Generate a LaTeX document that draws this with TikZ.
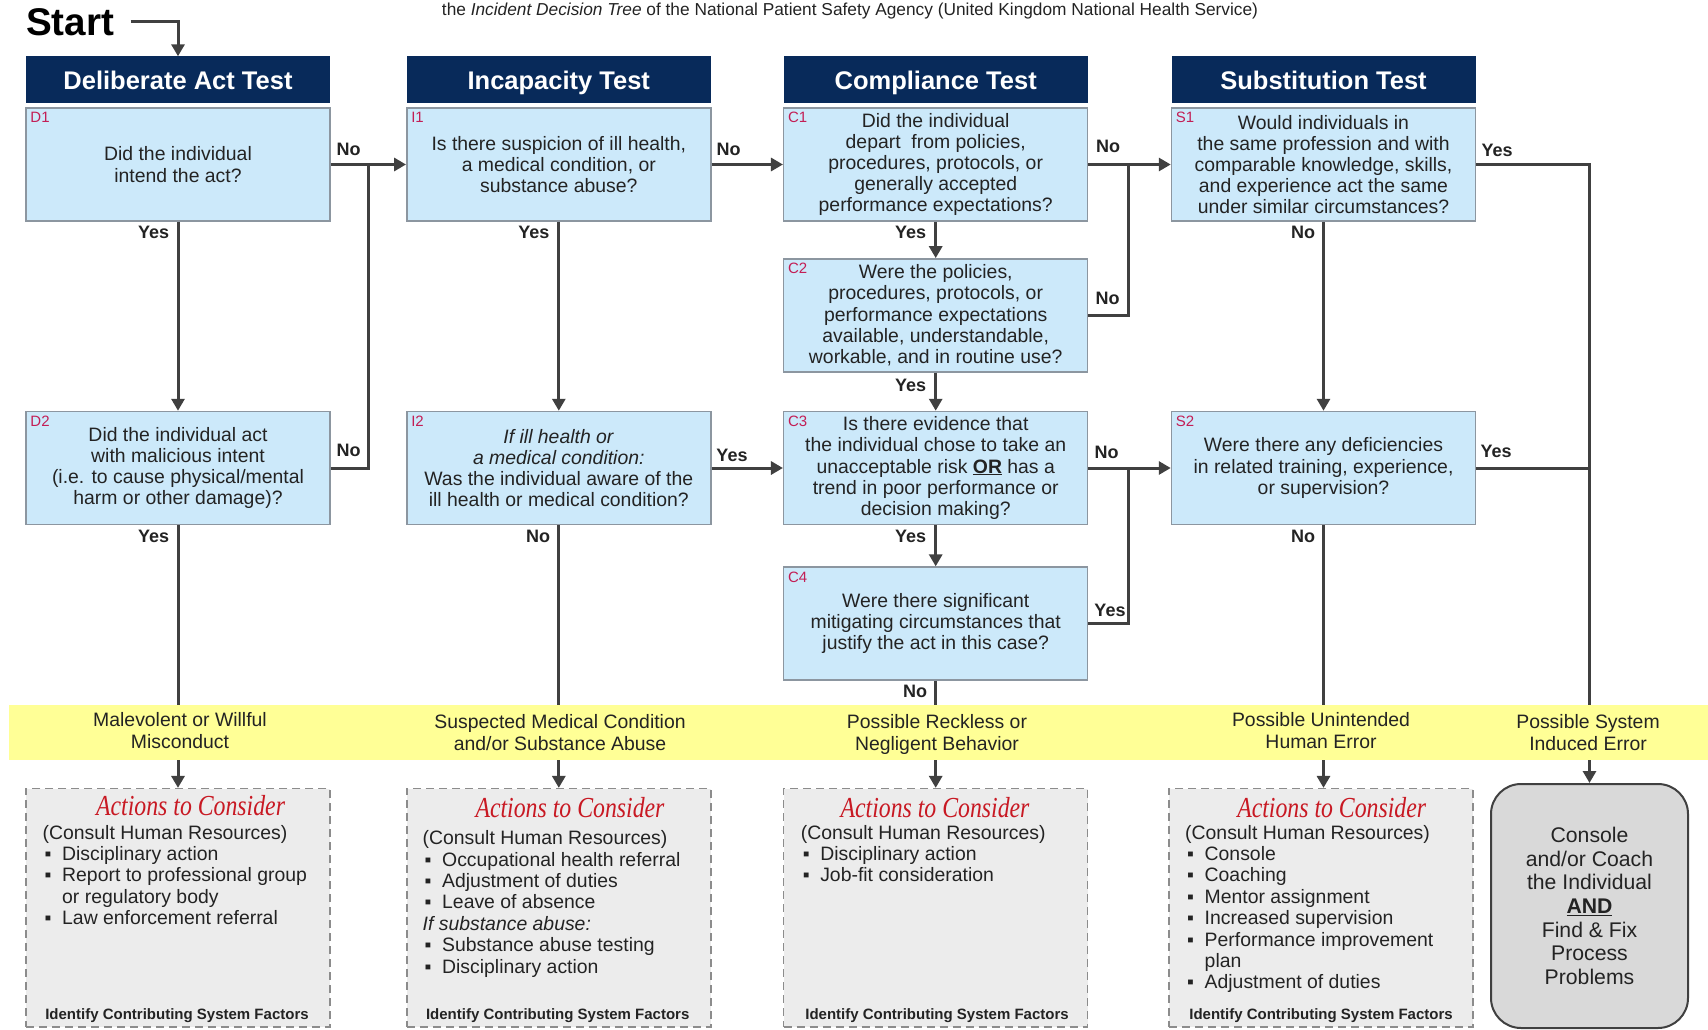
\documentclass[tikz,border=0pt]{standalone}
\usepackage{fontspec}
\setmainfont{Liberation Sans}
\newfontfamily\actfont[FakeStretch=0.82]{Liberation Serif}
\usetikzlibrary{arrows.meta,calc}
\definecolor{navy}{RGB}{8,42,90}
\definecolor{qfill}{RGB}{204,233,250}
\definecolor{qdraw}{RGB}{140,150,160}
\definecolor{lblred}{RGB}{195,30,85}
\definecolor{txt}{RGB}{35,35,35}
\definecolor{conncol}{RGB}{64,64,64}
\definecolor{bandcol}{RGB}{255,255,150}
\definecolor{actfill}{RGB}{236,236,236}
\definecolor{actdraw}{RGB}{140,140,140}
\definecolor{actred}{RGB}{200,25,35}
\definecolor{roundfill}{RGB}{217,217,217}
\newcommand\blt{\hspace*{2pt}\makebox[17.5pt][l]{▪}}
\newcommand\cnt{\hspace*{19.5pt}}
\begin{document}
\begin{tikzpicture}[x=1pt,y=-1pt,
  hdr/.style={fill=navy,text=white,font=\fontsize{25.5}{28}\selectfont\bfseries,minimum width=304pt,minimum height=47pt,inner sep=0pt,text height=18.3pt,text depth=0pt},
  qbox/.style={fill=qfill,draw=qdraw,line width=1.5pt,minimum width=304pt,minimum height=113pt,align=center,text=txt,font=\fontsize{19.4}{21.2}\selectfont,inner sep=0pt},
  qlabel/.style={text=lblred,font=\fontsize{15}{16}\selectfont,anchor=north west,inner sep=0pt},
  yn/.style={font=\fontsize{18}{20}\selectfont\bfseries,text=txt,inner sep=0pt},
  conn/.style={draw=conncol,line width=3pt},
  arr/.style={conn,-{Triangle[length=12pt,width=13pt]}},
  actbox/.style={fill=actfill,draw=actdraw,dash pattern=on 8pt off 5pt,line width=1.5pt,minimum width=304pt,minimum height=238.3pt,inner sep=0pt},
  acttitle/.style={font=\actfont\itshape\fontsize{29}{31}\selectfont,text=actred,inner sep=0pt},
  acttext/.style={font=\fontsize{19.4}{21.4}\selectfont,text=txt,align=left,anchor=north west,inner sep=0pt},
  idf/.style={font=\fontsize{15}{17}\selectfont\bfseries,text=txt,inner sep=0pt},
  bandtext/.style={font=\fontsize{19.4}{21.8}\selectfont,text=txt,align=center,inner sep=0pt}
]
\useasboundingbox (0,0) rectangle (1708,1030);

% title line
\node[font=\fontsize{17.3}{19}\selectfont,text=txt,inner sep=0pt] (title) at (850,11)
  {the \textit{Incident Decision Tree} of the National Patient Safety Agency (United Kingdom National Health Service)};

% headers
\node[hdr] (hD) at (178,80) {Deliberate Act Test};
\node[hdr] (hI) at (558.8,80) {Incapacity Test};
\node[hdr] (hC) at (935.7,80) {Compliance Test};
\node[hdr] (hS) at (1323.5,80) {Substitution Test};

% start
\node[font=\fontsize{38.6}{40}\selectfont\bfseries,anchor=west,inner sep=0pt,text=black] (start) at (26,22) {Start};
\coordinate (startline) at (130.7,22);
\draw[arr] (startline) -- (startline -| hD.north) -- (hD.north);

% question boxes
\node[qbox] (D1) at (178,164.5) {Did the individual\\intend the act?};
\node[qbox] (D2) at (178,468) {Did the individual act\\with malicious intent\\(i.e. to cause physical/mental\\harm or other damage)?};
\node[qbox] (I1) at (558.8,164.5) {Is there suspicion of ill health,\\a medical condition, or\\substance abuse?};
\node[qbox] (I2) at (558.8,468) {\textit{If ill health or}\\\textit{a medical condition:}\\Was the individual aware of the\\ill health or medical condition?};
\node[qbox] (C1) at (935.7,164.5) {Did the individual\\depart\ \ from policies,\\procedures, protocols, or\\generally accepted\\performance expectations?};
\node[qbox] (C2) at (935.7,315.4) {Were the policies,\\procedures, protocols, or\\performance expectations\\available, understandable,\\workable, and in routine use?};
\node[qbox] (C3) at (935.7,468) {Is there evidence that\\the individual chose to take an\\unacceptable risk \underline{\textbf{OR}} has a\\trend in poor performance or\\decision making?};
\node[qbox] (C4) at (935.7,623.6) {Were there significant\\mitigating circumstances that\\justify the act in this case?};
\node[qbox] (S1) at (1323.5,164.5) {Would individuals in\\the same profession and with\\comparable knowledge, skills,\\and experience act the same\\under similar circumstances?};
\node[qbox] (S2) at (1323.5,468) {Were there any deficiencies\\in related training, experience,\\or supervision?};

% box labels
\node[qlabel] (lD1) at ([xshift=5pt,yshift=-5pt]D1.north west) {D1};
\node[qlabel] (lD2) at ([xshift=5pt,yshift=-5pt]D2.north west) {D2};
\node[qlabel] (lI1) at ([xshift=5pt,yshift=-5pt]I1.north west) {I1};
\node[qlabel] (lI2) at ([xshift=5pt,yshift=-5pt]I2.north west) {I2};
\node[qlabel] (lC1) at ([xshift=5pt,yshift=-5pt]C1.north west) {C1};
\node[qlabel] (lC2) at ([xshift=5pt,yshift=-5pt]C2.north west) {C2};
\node[qlabel] (lC3) at ([xshift=5pt,yshift=-5pt]C3.north west) {C3};
\node[qlabel] (lC4) at ([xshift=5pt,yshift=-5pt]C4.north west) {C4};
\node[qlabel] (lS1) at ([xshift=5pt,yshift=-5pt]S1.north west) {S1};
\node[qlabel] (lS2) at ([xshift=5pt,yshift=-5pt]S2.north west) {S2};

% yellow band
\node[fill=bandcol,minimum width=1699.3pt,minimum height=55.5pt,inner sep=0pt] (band) at (858.35,732.5) {};
\node[bandtext] (b1) at (180,733.2) {\strut Malevolent or Willful\\Misconduct\strut};
\node[bandtext] (b2) at (560,735.3) {\strut Suspected Medical Condition\\and/or Substance Abuse\strut};
\node[bandtext] (b3) at (937,735.2) {\strut Possible Reckless or\\Negligent Behavior\strut};
\node[bandtext] (b4) at (1321,733.2) {\strut Possible Unintended\\Human Error\strut};
\node[bandtext] (b5) at (1588,735.3) {\strut Possible System\\Induced Error\strut};

% action boxes
\node[actbox] (A1) at (178,907.8) {};
\node[actbox] (A2) at (558.8,907.8) {};
\node[actbox] (A3) at (935.7,907.8) {};
\node[actbox] (A4) at (1321,907.8) {};
\node[fill=roundfill,draw=conncol,line width=2pt,rounded corners=30pt,minimum width=197pt,minimum height=244pt,inner sep=0pt,align=center,text=txt,font=\fontsize{21.2}{23.6}\selectfont] (A5) at (1589.5,906)
  {Console\\and/or Coach\\the Individual\\\underline{\textbf{AND}}\\Find \& Fix\\Process\\Problems};

\node[acttitle] (A1h) at (190.6,806) {Actions to Consider};
\node[acttitle] (A2h) at (570,808) {Actions to Consider};
\node[acttitle] (A3h) at (935,808) {Actions to Consider};
\node[acttitle] (A4h) at (1331.7,808) {Actions to Consider};

\node[acttext] (A1t) at (42.5,824) {\strut(Consult Human Resources)\\\blt Disciplinary action\\\blt Report to professional group\\\cnt or regulatory body\\\blt Law enforcement referral};
\node[acttext] (A2t) at (422.5,829.6) {\strut(Consult Human Resources)\\\blt Occupational health referral\\\blt Adjustment of duties\\\blt Leave of absence\\\textit{If substance abuse:}\\\blt Substance abuse testing\\\blt Disciplinary action};
\node[acttext] (A3t) at (800.6,824) {\strut(Consult Human Resources)\\\blt Disciplinary action\\\blt Job-fit consideration};
\node[acttext] (A4t) at (1185,824) {\strut(Consult Human Resources)\\\blt Console\\\blt Coaching\\\blt Mentor assignment\\\blt Increased supervision\\\blt Performance improvement\\\cnt plan\\\blt Adjustment of duties};

\node[idf] (A1f) at (177,1016) {Identify Contributing System Factors};
\node[idf] (A2f) at (557.7,1016) {Identify Contributing System Factors};
\node[idf] (A3f) at (937,1016) {Identify Contributing System Factors};
\node[idf] (A4f) at (1321,1016) {Identify Contributing System Factors};

% connectors: deliberate act
\draw[arr] (D1.east) -- (I1.west);
\coordinate (jD) at (368.2,164.5);
\draw[conn] (D2.east) -| (jD);
\draw[arr] (D1.south) -- (D2.north);
\draw[conn] (D2.south) -- (D2.south |- band.north);
\draw[arr] (D2.south |- band.south) -- (A1.north);
% incapacity
\draw[arr] (I1.east) -- (C1.west);
\draw[arr] (I1.south) -- (I2.north);
\draw[arr] (I2.east) -- (C3.west);
\draw[conn] (I2.south) -- (I2.south |- band.north);
\draw[arr] (I2.south |- band.south) -- (A2.north);
% compliance
\draw[arr] (C1.east) -- (S1.west);
\coordinate (jC1) at (1128.5,164.5);
\draw[conn] (C2.east) -| (jC1);
\draw[arr] (C1.south) -- (C2.north);
\draw[arr] (C2.south) -- (C3.north);
\draw[arr] (C3.east) -- (S2.west);
\coordinate (jC3) at (1128.5,468);
\draw[conn] (C4.east) -| (jC3);
\draw[arr] (C3.south) -- (C4.north);
\draw[conn] (C4.south) -- (C4.south |- band.north);
\draw[arr] (C4.south |- band.south) -- (A3.north);
% substitution
\draw[arr] (S1.south) -- (S2.north);
\coordinate (sysTop) at (1589.5,164.5);
\draw[conn] (S1.east) -- (sysTop) -- (sysTop |- band.north);
\draw[conn] (S2.east) -- (S2.east -| sysTop);
\draw[conn] (S2.south) -- (S2.south |- band.north);
\draw[arr] (S2.south |- band.south) -- (S2.south |- A4.north);
\draw[arr] (sysTop |- band.south) -- (A5.north);

% yes/no labels
\node[yn] (yD1n) at (348.6,149.2) {No};
\node[yn] (yD2n) at (348.6,449.9) {No};
\node[yn] (yD1y) at (153.6,232) {Yes};
\node[yn] (yD2y) at (153.6,536.8) {Yes};
\node[yn] (yI1n) at (728.7,149.2) {No};
\node[yn] (yI1y) at (533.8,232) {Yes};
\node[yn] (yI2y) at (732,455.3) {Yes};
\node[yn] (yI2n) at (538,536.8) {No};
\node[yn] (yC1n) at (1108,146) {No};
\node[yn] (yC1y) at (910.7,232) {Yes};
\node[yn] (yC2n) at (1107.5,298.5) {No};
\node[yn] (yC2y) at (910.7,385.6) {Yes};
\node[yn] (yC3n) at (1106.7,452) {No};
\node[yn] (yC3y) at (910.7,536.8) {Yes};
\node[yn] (yC4y) at (1110,610) {Yes};
\node[yn] (yC4n) at (915,691.7) {No};
\node[yn] (yS1n) at (1303,232) {No};
\node[yn] (yS1y) at (1497,150.3) {Yes};
\node[yn] (yS2y) at (1496,451) {Yes};
\node[yn] (yS2n) at (1303,536.8) {No};
\end{tikzpicture}
\end{document}
